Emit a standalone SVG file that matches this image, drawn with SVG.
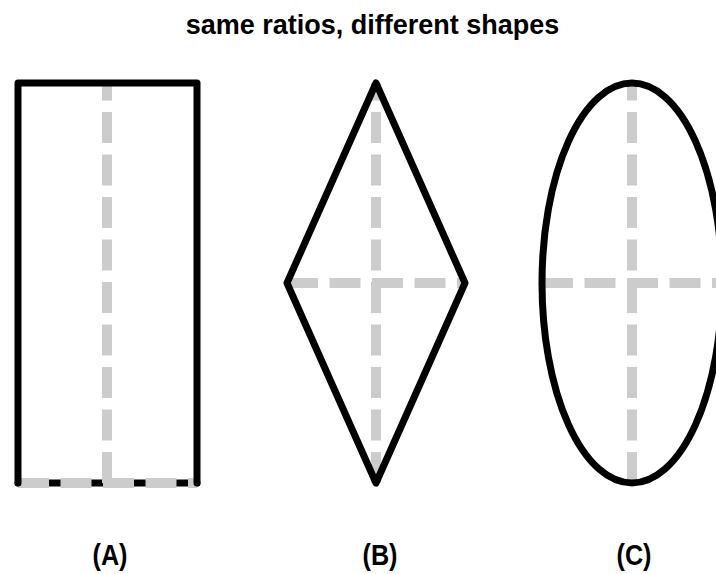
<svg xmlns="http://www.w3.org/2000/svg" width="716" height="574" viewBox="0 0 716 574">
<style>
.bk{fill:none;stroke:#000;stroke-width:7;stroke-linejoin:round;stroke-linecap:round}
.gr{fill:none;stroke:#cccccc;stroke-width:10;stroke-dasharray:31 11.5}
.ttl{font-family:"Liberation Sans",Arial,sans-serif;font-weight:bold;font-size:27px;fill:#000}
.lbl{font-family:"Liberation Sans",Arial,sans-serif;font-weight:bold;font-size:29px;fill:#000}
</style>
<rect width="716" height="574" fill="#fff"/>
<text class="ttl" x="372.5" y="34" text-anchor="middle">same ratios, different shapes</text>
<g id="shapeA">
<line class="bk" x1="18" y1="483" x2="197" y2="483"/>
<line class="gr" x1="107" y1="483" x2="107" y2="83"/>
<line class="gr" x1="18" y1="483" x2="197" y2="483"/>
<polyline class="bk" points="18,483 18,83 197,83 197,483"/>
</g>
<g id="shapeB">
<line class="gr" x1="376" y1="483" x2="376" y2="83"/>
<line class="gr" x1="287" y1="283" x2="465" y2="283"/>
<polygon class="bk" points="376,83 465,283 376,483 287,283"/>
</g>
<g id="shapeC">
<line class="gr" x1="632" y1="483" x2="632" y2="83"/>
<line class="gr" x1="542" y1="283" x2="722" y2="283"/>
<ellipse class="bk" cx="632" cy="283" rx="90" ry="200"/>
</g>
<g id="labels">
<text class="lbl" x="110" y="565" text-anchor="middle" textLength="35" lengthAdjust="spacingAndGlyphs">(A)</text>
<text class="lbl" x="380" y="565" text-anchor="middle" textLength="35" lengthAdjust="spacingAndGlyphs">(B)</text>
<text class="lbl" x="634" y="565" text-anchor="middle" textLength="35" lengthAdjust="spacingAndGlyphs">(C)</text>
</g>
</svg>
